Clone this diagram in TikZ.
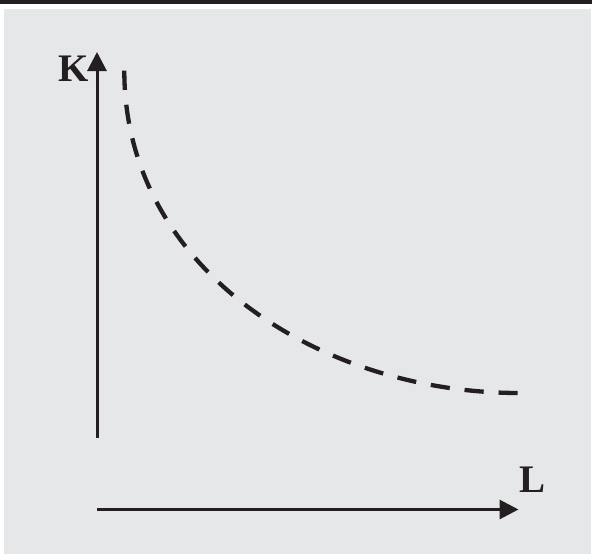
\documentclass[tikz,border=0pt]{standalone}
\usepackage{fontspec}
\setmainfont{Liberation Serif}
\usetikzlibrary{arrows.meta}
\definecolor{ink}{HTML}{231F20}
\definecolor{panel}{HTML}{E6E7E9}
\begin{document}
\begin{tikzpicture}[x=1pt,y=-1pt,
  axis/.style={draw=ink,line width=3pt,-{Triangle[length=19pt,width=19pt]}},
  curve/.style={draw=ink,line width=4.3pt,dash pattern=on 19.2pt off 14.9pt},
  lbl/.style={font=\fontsize{39}{39}\selectfont\bfseries,text=ink,inner sep=0pt}]
\useasboundingbox (0,0) rectangle (592,554);
\fill[white] (0,0) rectangle (592,554);
\fill[ink] (0,0) rectangle (592,4);
\fill[panel] (4,8.5) rectangle (591,554);
\coordinate (kbot) at (97,437.7);
\coordinate (ktop) at (97,52);
\coordinate (lleft) at (97,509.5);
\coordinate (lright) at (518.5,509.5);
\coordinate (cs) at (124.3,70.7);
\coordinate (ce) at (519,393);
\draw[axis] (kbot) -- (ktop);
\draw[axis] (lleft) -- (lright);
\draw[curve] (cs) .. controls (124.3,269) and (320,393) .. (ce);
\node[lbl] (K) at (74,68.5) {K};
\node[lbl] (L) at (532.5,479.5) {L};
\end{tikzpicture}
\end{document}
